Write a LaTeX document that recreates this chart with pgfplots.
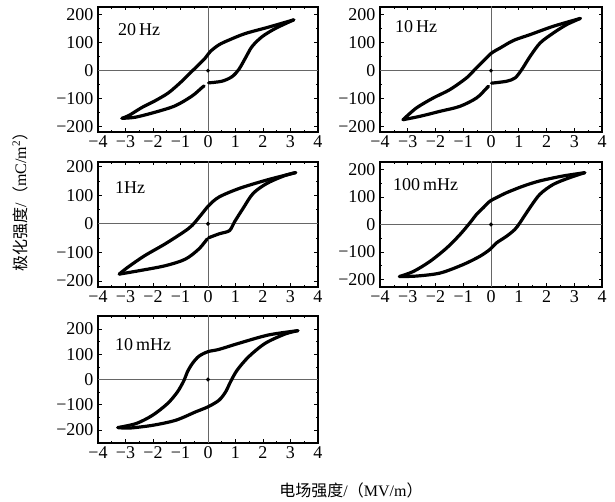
\documentclass[border=0pt]{standalone}
\usepackage{pgfplots}
\pgfplotsset{compat=1.18}
\usepackage{fontspec}
\setmainfont{Liberation Serif}
\newfontfamily\cjk{Noto Sans CJK SC}

\pgfplotsset{
  loop/.style={
    scale only axis, anchor=south west,
    xmin=-4, xmax=4,
    xtick={-4,...,4},
    xticklabels={−4,−3,−2,−1,0,1,2,3,4},
    ytick={-200,-100,0,100,200},
    yticklabels={−200,−100,0,100,200},
    minor x tick num=1,
    minor y tick num=1,
    tick align=inside,
    major tick length=3.5pt,
    minor tick length=2pt,
    tick style={black, line width=0.6pt},
    axis line style={line width=1.1pt},
    ticklabel style={font=\fontsize{18}{18}\selectfont},
    yticklabel style={xshift=-1pt},
  },
}
\tikzset{
  branch/.style={black, line width=3.2pt, smooth, line cap=round, line join=round},
  zero/.style={black!60, line width=0.8pt},
  dot/.style={only marks, mark=*, mark size=1.8pt, black},
  tag/.style={anchor=north west, inner sep=0pt, font=\fontsize{18}{18}\selectfont},
}

\begin{document}
\begin{tikzpicture}
\path[use as bounding box] (0pt,0pt) rectangle (615pt,502pt);

% 20 Hz
\begin{axis}[loop, at={(98pt,370pt)}, width=220pt, height=125pt, ymin=-220, ymax=228]
  \addplot[zero] coordinates {(-4,0) (4,0)};
  \addplot[zero] coordinates {(0,-300) (0,300)};
  \addplot[branch] coordinates {(3.12,182) (2.21,156) (1.36,133) (0.75,109) (0.39,92) (0.08,68) (-0.10,45) (-0.34,21) (-0.58,-2) (-0.95,-38) (-1.43,-79) (-1.92,-108) (-2.40,-132) (-2.88,-161) (-3.13,-171)};
  \addplot[branch] coordinates {(-3.13,-171) (-2.64,-167) (-1.92,-149) (-1.19,-126) (-0.58,-91) (-0.22,-61) (-0.14,-55)};
  \addplot[branch] coordinates {(0.02,-44) (0.51,-38) (0.87,-22) (1.12,4) (1.36,45) (1.60,86) (1.96,121) (2.45,151) (3.12,182)};
  \addplot[dot] coordinates {(0,0)};
  \node[tag] at (rel axis cs:0,1) [xshift=20pt, yshift=-16pt] {20\,Hz};
\end{axis}

% 10 Hz
\begin{axis}[loop, at={(380pt,370pt)}, width=222pt, height=125pt, ymin=-220, ymax=228]
  \addplot[zero] coordinates {(-4,0) (4,0)};
  \addplot[zero] coordinates {(0,-300) (0,300)};
  \addplot[branch] coordinates {(3.22,187) (2.25,159) (1.41,129) (0.81,108) (0.33,81) (0.02,63) (-0.28,34) (-0.58,4) (-0.88,-26) (-1.48,-68) (-2.08,-98) (-2.69,-134) (-3.17,-176)};
  \addplot[branch] coordinates {(-3.17,-176) (-2.57,-164) (-1.84,-146) (-1.12,-128) (-0.52,-98) (-0.15,-62) (-0.09,-56)};
  \addplot[branch] coordinates {(0.02,-45) (0.57,-38) (0.87,-26) (1.11,4) (1.41,51) (1.77,99) (2.25,135) (2.73,165) (3.22,187)};
  \addplot[dot] coordinates {(0,0)};
  \node[tag] at (rel axis cs:0,1) [xshift=15pt, yshift=-13pt] {10\,Hz};
\end{axis}

% 1 Hz
\begin{axis}[loop, at={(98pt,215pt)}, width=220pt, height=125pt, ymin=-221, ymax=216]
  \addplot[zero] coordinates {(-4,0) (4,0)};
  \addplot[zero] coordinates {(0,-300) (0,300)};
  \addplot[branch] coordinates {(3.19,179) (2.14,153) (1.15,124) (0.41,94) (0.04,65) (-0.27,29) (-0.58,-6) (-0.89,-29) (-1.57,-71) (-2.31,-112) (-2.93,-153) (-3.23,-176)};
  \addplot[branch] coordinates {(-3.23,-176) (-2.56,-165) (-1.57,-147) (-0.83,-124) (-0.33,-88) (-0.03,-53)};
  \addplot[branch] coordinates {(0.02,-49) (0.41,-35) (0.78,-24) (0.96,6) (1.27,53) (1.64,106) (2.14,141) (2.75,167) (3.19,179)};
  \addplot[dot] coordinates {(0,0)};
  \node[tag] at (rel axis cs:0,1) [xshift=17pt, yshift=-19pt] {1Hz};
\end{axis}

% 100 mHz
\begin{axis}[loop, at={(380pt,215pt)}, width=222pt, height=125pt, ymin=-228, ymax=228]
  \addplot[zero] coordinates {(-4,0) (4,0)};
  \addplot[zero] coordinates {(0,-300) (0,300)};
  \addplot[branch] coordinates {(3.38,189) (2.60,177) (1.76,159) (1.16,140) (0.56,116) (0.20,98) (-0.04,85) (-0.28,61) (-0.52,37) (-0.76,6) (-1.12,-37) (-1.59,-85) (-2.19,-134) (-2.79,-171) (-3.30,-190)};
  \addplot[branch] coordinates {(-3.30,-190) (-2.67,-188) (-1.83,-177) (-1.0,-146) (-0.40,-116) (-0.04,-91) (0.20,-67) (0.56,-43) (0.86,-18) (1.04,6) (1.40,61) (1.76,110) (2.24,146) (2.84,171) (3.38,189)};
  \addplot[dot] coordinates {(0,0)};
  \node[tag] at (rel axis cs:0,1) [xshift=13pt, yshift=-16pt] {100\,mHz};
\end{axis}

% 10 mHz
\begin{axis}[loop, at={(98pt,59pt)}, width=220pt, height=127pt, ymin=-251, ymax=251]
  \addplot[zero] coordinates {(-4,0) (4,0)};
  \addplot[zero] coordinates {(0,-300) (0,300)};
  \addplot[branch] coordinates {(3.27,193) (2.2,176) (1.12,143) (0.40,119) (0,110) (-0.33,92) (-0.57,63) (-0.75,30) (-0.87,-3) (-1.11,-49) (-1.47,-95) (-2.01,-141) (-2.61,-174) (-3.28,-190)};
  \addplot[branch] coordinates {(-3.28,-190) (-2.86,-192) (-2.01,-181) (-1.17,-161) (-0.45,-128) (0,-108) (0.40,-82) (0.64,-49) (0.82,-9) (1.06,37) (1.48,90) (2.08,143) (2.81,180) (3.27,193)};
  \addplot[dot] coordinates {(0,0)};
  \node[tag] at (rel axis cs:0,1) [xshift=17pt, yshift=-22pt] {10\,mHz};
\end{axis}

\node[rotate=90, font=\fontsize{16}{16}\selectfont] at (20pt,304pt)
  {{\cjk 极化强度}/{\cjk （}mC/m\textsuperscript{2}{\cjk ）}};
\node[font=\fontsize{16}{16}\selectfont] at (351pt,12pt)
  {{\cjk 电场强度}/{\cjk （}MV/m{\cjk ）}};
\end{tikzpicture}
\end{document}
